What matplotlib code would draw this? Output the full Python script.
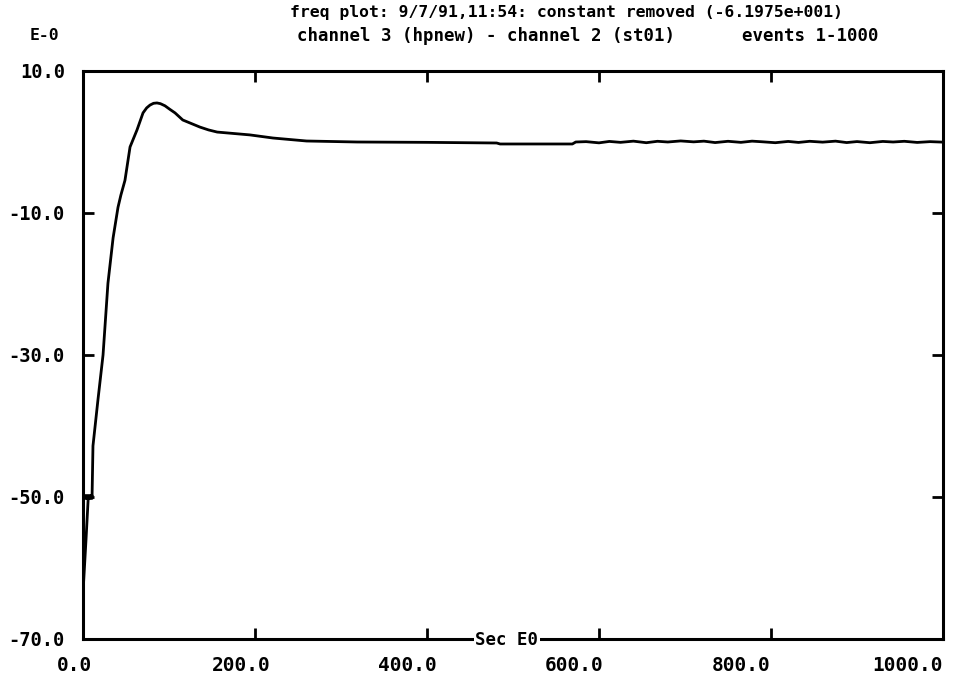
import numpy as np
import matplotlib.pyplot as plt
from matplotlib.transforms import ScaledTranslation

# frequency difference trace, channel 3 - channel 2 (units of 1e-0)
t_rise = [0, 3.5, 6, 10.5, 2, 2, 10.5, 11.6, 17.4, 23.3, 29, 35, 40.7, 44,
          48.8, 54.7, 62.8, 69.8, 74, 77.9, 82, 86, 90, 95.3, 101, 107, 116,
          126, 136, 146, 156, 175, 194, 221, 260, 319, 400, 481, 485, 569, 573]
v_rise = [-63.5, -56, -50.3, -49.8, -49.8, -50.2, -50.2, -42.8, -36.3, -30,
          -19.9, -13.5, -9.2, -7.5, -5.4, -0.7, 1.7, 4.1, 4.8, 5.2, 5.45, 5.5,
          5.4, 5.1, 4.6, 4.1, 3.1, 2.6, 2.1, 1.7, 1.4, 1.2, 1.0, 0.56, 0.14,
          0.0, -0.05, -0.14, -0.28, -0.28, 0.0]
t_tail = [585, 600, 612, 625, 640, 655, 668, 680, 695, 710, 722, 735, 750,
          765, 778, 790, 805, 820, 832, 845, 860, 875, 888, 900, 915, 930,
          942, 955, 970, 985, 1000]
v_tail = [0.05, -0.12, 0.08, -0.05, 0.12, -0.1, 0.1, 0.0, 0.15, 0.02, 0.12,
          -0.08, 0.1, -0.05, 0.12, 0.03, -0.1, 0.08, -0.06, 0.1, -0.02, 0.12,
          -0.08, 0.06, -0.1, 0.08, 0.0, 0.1, -0.06, 0.05, -0.02]

t = t_rise + t_tail
v = v_rise + v_tail

x_ticks = [0, 200, 400, 600, 800, 1000]
y_ticks = [10, -10, -30, -50, -70]

font = 'DejaVu Sans Mono'

fig = plt.figure(figsize=(9.68, 6.82), dpi=100)
ax = fig.add_axes([83 / 968, 1 - 639 / 682, 860 / 968, 568 / 682])

ax.plot(t, v, color='black', lw=2.0, solid_joinstyle='round')
ax.set_xlim(0, 1000)
ax.set_ylim(-70, 10)

ax.set_xticks(x_ticks)
ax.set_yticks(y_ticks)
ax.set_xticklabels([f'{x:.1f}' for x in x_ticks], family=font,
                   fontweight='bold', fontsize=14)
ax.set_yticklabels([f'{y:.1f}' for y in y_ticks], family=font,
                   fontweight='bold', fontsize=13.5)
ax.tick_params(direction='in', length=8, width=2, top=True, right=True)
ax.tick_params(axis='x', pad=12)
ax.tick_params(axis='y', pad=13)
for s in ax.spines.values():
    s.set_linewidth(2.2)

# x labels drift left of their ticks on this plotter
for i, lab in enumerate(ax.get_xticklabels()):
    dx = -(9 + 5.2 * i) / 100
    lab.set_transform(lab.get_transform() +
                      ScaledTranslation(dx, 0, fig.dpi_scale_trans))

ax.text(0.493, -0.002, 'Sec E0', transform=ax.transAxes, ha='center',
        va='center', family=font, fontweight='bold', fontsize=12.5,
        bbox=dict(facecolor='white', edgecolor='none', pad=1))

fig.text(566 / 968, 1 - 13 / 682,
         'freq plot: 9/7/91,11:54: constant removed (-6.1975e+001)',
         ha='center', va='center', family=font, fontweight='bold',
         fontsize=11.8)
fig.text(297 / 968, 1 - 36 / 682,
         'channel 3 (hpnew) - channel 2 (st01)',
         ha='left', va='center', family=font, fontweight='bold',
         fontsize=12.5)
fig.text(878 / 968, 1 - 36 / 682, 'events 1-1000',
         ha='right', va='center', family=font, fontweight='bold',
         fontsize=12.5)
fig.text(44 / 968, 1 - 36 / 682, 'E-0', ha='center', va='center',
         family=font, fontweight='bold', fontsize=11.8)

fig.savefig('out.png', dpi=100, facecolor='white')
